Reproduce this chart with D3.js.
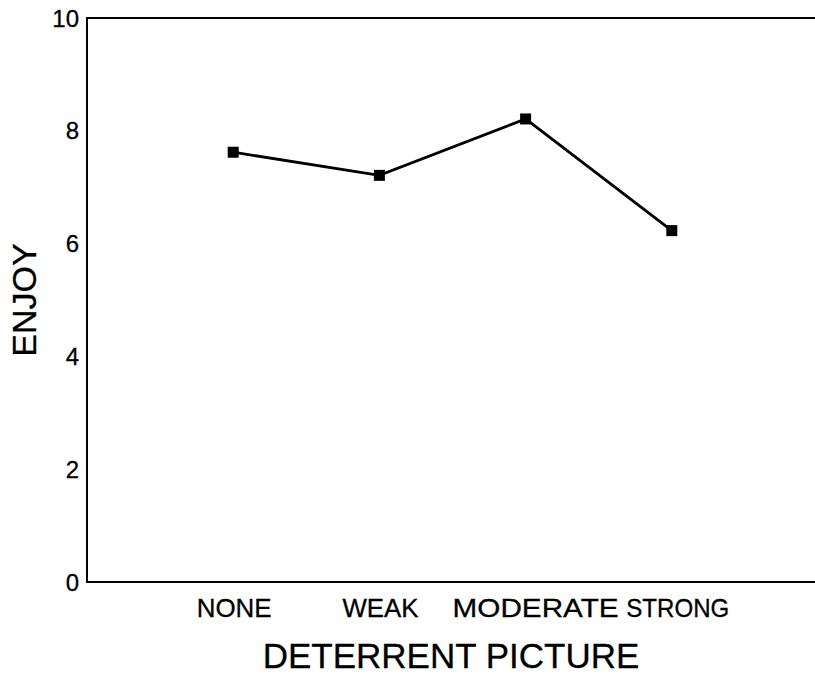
<!DOCTYPE html>
<html><head><meta charset="utf-8">
<script src="https://cdn.jsdelivr.net/npm/d3@7"></script>
<style>body{margin:0;background:#fff;} text{font-family:"Liberation Sans",Arial,sans-serif;fill:#000;stroke:#000;stroke-width:0.3px;}</style>
</head><body>
<svg id="c" width="815" height="676"></svg>
<script>
const categories = ["NONE", "WEAK", "MODERATE", "STRONG"];
const enjoyValues = [7.62, 7.21, 8.21, 6.23];
const yTicks = [0, 2, 4, 6, 8, 10];
const xTitle = "DETERRENT PICTURE";
const yTitle = "ENJOY";

(function () {
const svg = d3.select("#c");
const pL = 87, pR = 818, pT = 18, pB = 582;
const x = d3.scaleLinear().domain([0, categories.length + 1]).range([pL, pR]);
const y = d3.scaleLinear().domain([0, 10]).range([pB, pT]);

// axes frame
svg.append("line").attr("x1", pL).attr("x2", pL).attr("y1", pT).attr("y2", pB)
  .attr("stroke", "#000").attr("stroke-width", 2);
svg.append("line").attr("x1", pL - 1).attr("x2", 815).attr("y1", pB).attr("y2", pB)
  .attr("stroke", "#000").attr("stroke-width", 2);
svg.append("line").attr("x1", pL - 1).attr("x2", 815).attr("y1", pT).attr("y2", pT)
  .attr("stroke", "#000").attr("stroke-width", 2);

// y tick labels
svg.append("g").selectAll("text").data(yTicks).join("text")
  .attr("x", 79).attr("y", d => y(d) + 8.5)
  .attr("text-anchor", "middle").attr("text-anchor", "end").attr("font-size", 24).text(d => d);

// x category labels (small offsets mimic the reference's uneven label placement)
const labelShift = [1, 1, 10, 6];
const labelWidth = [75, 76, 166, 103];
svg.append("g").selectAll("text").data(categories).join("text")
  .attr("x", (d, i) => x(i + 1) + labelShift[i]).attr("y", 617)
  .attr("text-anchor", "middle").attr("font-size", 26)
  .attr("textLength", (d, i) => labelWidth[i]).attr("lengthAdjust", "spacingAndGlyphs")
  .text(d => d);

// titles
svg.append("text").attr("x", (pL + 815) / 2).attr("y", 668)
  .attr("text-anchor", "middle").attr("font-size", 35).text(xTitle);
svg.append("text").attr("transform", `translate(36,${(pT + pB) / 2}) rotate(-90)`)
  .attr("text-anchor", "middle").attr("font-size", 34).text(yTitle);

// line
const line = d3.line().x((d, i) => x(i + 1)).y(d => y(d));
svg.append("path").datum(enjoyValues).attr("d", line)
  .attr("fill", "none").attr("stroke", "#000").attr("stroke-width", 2.8);

// markers
svg.append("g").selectAll("rect").data(enjoyValues).join("rect")
  .attr("x", (d, i) => x(i + 1) - 5.5).attr("y", d => y(d) - 5.5)
  .attr("width", 11).attr("height", 11).attr("fill", "#000");
})();
</script>
</body></html>
